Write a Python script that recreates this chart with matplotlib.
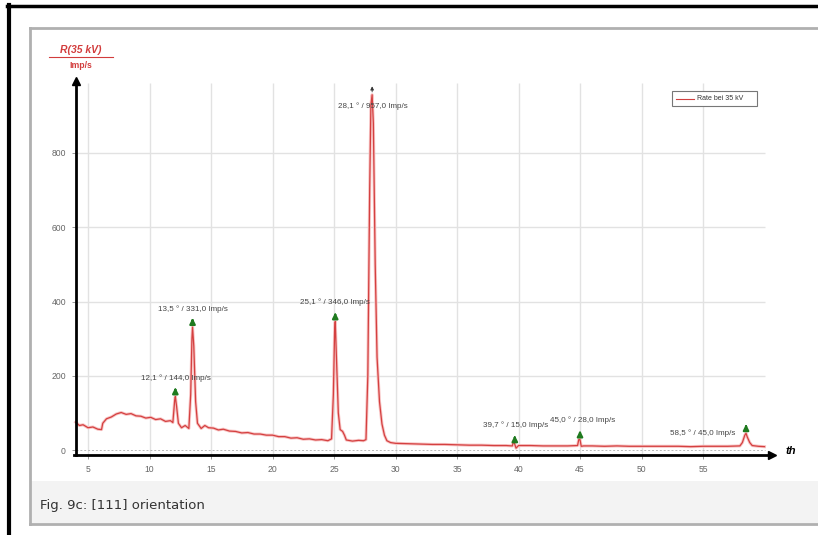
import matplotlib
matplotlib.use("Agg")
import matplotlib.pyplot as plt
from matplotlib.patches import Rectangle
from matplotlib.lines import Line2D

plt.rcParams["font.family"] = ["Liberation Sans", "DejaVu Sans"]

# diffractogram (angle in degrees, rate in Imp/s)
theta = [4.0, 4.3, 4.6, 5.0, 5.4, 5.8, 6.1, 6.2, 6.5, 6.9, 7.3, 7.7, 8.1, 8.5,
         8.9, 9.3, 9.7, 10.1, 10.5, 10.9, 11.3, 11.7, 11.9, 12.05, 12.1, 12.2,
         12.35, 12.6, 12.9, 13.2, 13.35, 13.45, 13.5, 13.6, 13.75, 13.9, 14.2,
         14.5, 14.8, 15.2, 15.6, 16.0, 16.5, 17.0, 17.5, 18.0, 18.5, 19.0, 19.5,
         20.0, 20.5, 21.0, 21.5, 22.0, 22.5, 23.0, 23.5, 24.0, 24.5, 24.8, 24.95,
         25.05, 25.1, 25.2, 25.35, 25.5, 25.7, 25.85, 26.0, 26.5, 27.0, 27.4,
         27.6, 27.75, 27.9, 28.0, 28.1, 28.2, 28.35, 28.5, 28.7, 28.9, 29.1,
         29.3, 29.6, 30.0, 31.0, 32.0, 33.0, 34.0, 35.0, 36.0, 37.0, 38.0, 39.0,
         39.5, 39.6, 39.7, 39.8, 40.0, 41.0, 42.0, 43.0, 44.0, 44.8, 44.9, 45.0,
         45.1, 45.3, 46.0, 47.0, 48.0, 49.0, 50.0, 51.0, 52.0, 53.0, 54.0, 55.0,
         56.0, 57.0, 58.0, 58.2, 58.4, 58.5, 58.6, 58.8, 59.0, 59.5, 60.0]
rate = [75, 66, 68, 60, 62, 56, 55, 72, 84, 89, 97, 101, 96, 98,
        92, 91, 86, 88, 82, 84, 77, 79, 74, 135, 144, 118,
        72, 60, 66, 58, 150, 300, 331, 280, 130, 72, 58,
        66, 60, 59, 54, 56, 51, 50, 46, 47, 43, 43, 40,
        40, 36, 36, 32, 33, 29, 30, 27, 28, 25, 30, 150,
        320, 346, 250, 100, 55, 50, 40, 27, 24, 26, 25,
        28, 200, 700, 930, 957, 880, 500, 250, 130, 70, 40,
        25, 20, 18, 17, 16, 15, 15, 14, 13, 13, 12, 12,
        11, 25, 15, 5, 12, 12, 11, 11, 11, 12, 28, 28,
        10, 11, 11, 10, 11, 10, 10, 10, 10, 10, 9, 10,
        10, 10, 11, 20, 40, 45, 35, 20, 12, 10, 9]

# marked peaks
peak_theta = [12.1, 13.5, 25.1, 28.1, 39.7, 45.0, 58.5]
peak_rate = [144.0, 331.0, 346.0, 957.0, 15.0, 28.0, 45.0]
label_x = [12.15, 13.5, 25.08, 28.17, 39.8, 45.2, 55.0]
label_y = [194, 380, 399, 927, 67, 81, 46]

x_ticks = [5, 10, 15, 20, 25, 30, 35, 40, 45, 50, 55]
y_ticks = [0, 200, 400, 600, 800]

fig = plt.figure(figsize=(8.18, 5.35), dpi=100)
W, H = 818, 535


def fx(px):
    return px / W


def fy(py):
    return 1 - py / H


# page frame
fig.add_artist(Rectangle((fx(31), fy(523)), fx(818 - 31), (523 - 481) / H,
                         facecolor="#f3f3f3", edgecolor="none"))
fig.add_artist(Line2D([fx(30), fx(30)], [fy(28), fy(524)], color="#b0b0b0", lw=2))
fig.add_artist(Line2D([fx(30), 1], [fy(28), fy(28)], color="#b0b0b0", lw=2))
fig.add_artist(Line2D([fx(30), 1], [fy(524), fy(524)], color="#b0b0b0", lw=2))
fig.add_artist(Line2D([fx(8.5), fx(8.5)], [0, fy(5)], color="black", lw=3))
fig.add_artist(Line2D([fx(7), 1], [fy(6), fy(6)], color="black", lw=2.5))
fig.text(fx(40), fy(506), "Fig. 9c: [111] orientation", family="DejaVu Sans",
         fontsize=9.5, color="#333333", va="center", ha="left")

ax = fig.add_axes([fx(40), 1 - 478 / H, 760 / W, 438 / H])
ax.set_xlim((40 - 26.5) / 12.3, (800 - 26.5) / 12.3)
ax.set_ylim((450 - 478) / 0.37125, (450 - 40) / 0.37125)

for s in ["top", "right"]:
    ax.spines[s].set_visible(False)
ax.spines["left"].set_position(("data", 4.0))
ax.spines["left"].set_bounds(-13.5, 985)
ax.spines["bottom"].set_position(("data", -13.5))
ax.spines["bottom"].set_bounds(3.9, 60.4)
for s in ["left", "bottom"]:
    ax.spines[s].set_linewidth(2)
ax.plot([60.6], [-13.5], marker=">", color="black", ms=6, clip_on=False)
ax.plot([4.0], [995], marker="^", color="black", ms=6, clip_on=False)

ax.set_xticks(x_ticks)
ax.set_yticks(y_ticks)
ax.tick_params(labelsize=6.2, labelcolor="#666666", color="#888888",
               length=3, width=0.6, pad=4)

ax.vlines(x_ticks, -13.5, 988, color="#e2e2e2", lw=1, zorder=0)
ax.hlines(y_ticks[1:], 4.0, 60.0, color="#e2e2e2", lw=1, zorder=0)
ax.hlines([0], 4.0, 60.0, color="#b8b8b8", lw=0.7, ls=(0, (2, 2)), zorder=0)

ax.plot(theta, rate, color="#f8c4c4", lw=2.2, solid_joinstyle="round")
ax.plot(theta, rate, color="#d44040", lw=0.9)

for px, py, lx, ly in zip(peak_theta, peak_rate, label_x, label_y):
    txt = f"{px:.1f} ° / {py:.1f} Imp/s".replace(".", ",")
    ax.text(lx, ly, txt, fontsize=5.8, color="#444444", ha="center", va="center")
    if py > 900:
        ax.annotate("", xy=(px, py + 30), xytext=(px, py),
                    arrowprops=dict(arrowstyle="-|>", color="#333333", lw=0.6,
                                    mutation_scale=5))
    else:
        ax.annotate("", xy=(px, py + 32), xytext=(px, py + 7),
                    arrowprops=dict(arrowstyle="-|>", color="#1f7a1f", lw=1.6,
                                    mutation_scale=8))

# axis captions
fig.text(fx(81), fy(50), "R(35 kV)", color="#d23c3c", fontsize=7.5,
         style="italic", weight="bold", ha="center", va="center")
fig.add_artist(Line2D([fx(49), fx(113)], [fy(57), fy(57)], color="#d23c3c", lw=0.8))
fig.text(fx(81), fy(65), "Imp/s", color="#d23c3c", fontsize=6.2,
         weight="bold", ha="center", va="center")
fig.text(fx(786), fy(451), "th", color="black", fontsize=8,
         style="italic", weight="bold", ha="left", va="center")

# legend box
fig.add_artist(Rectangle((fx(672), fy(106)), 85 / W, 15 / H, facecolor="white",
                         edgecolor="#777777", lw=0.8))
fig.add_artist(Line2D([fx(676), fx(694)], [fy(98.5), fy(98.5)], color="#d04040", lw=0.8))
fig.text(fx(697), fy(98.5), "Rate bei 35 kV", fontsize=5, color="#333333",
         ha="left", va="center")

fig.savefig("out.png", dpi=100)
